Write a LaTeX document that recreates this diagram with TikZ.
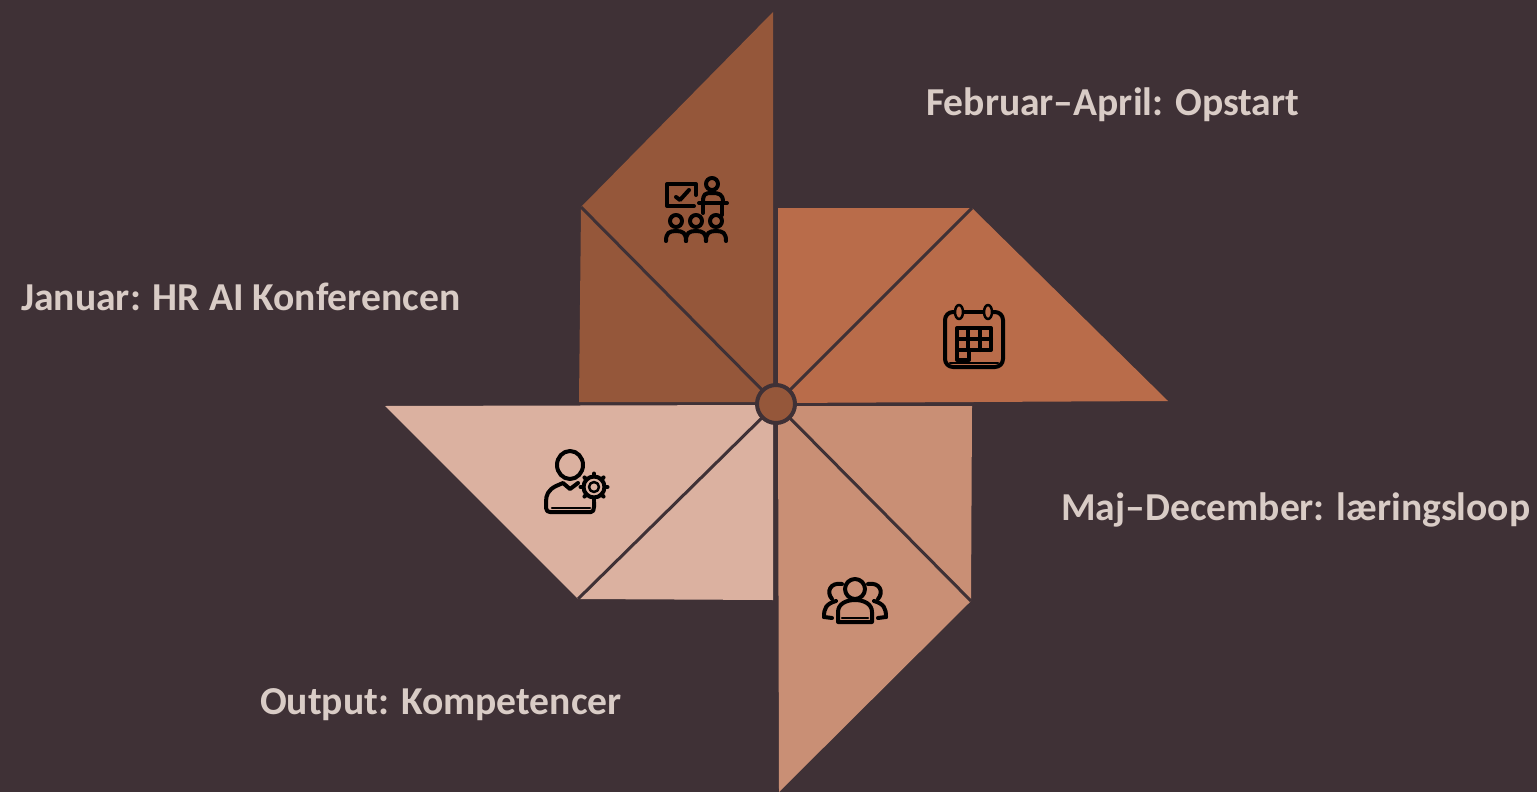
\documentclass[tikz,border=0pt]{standalone}
\usepackage{fontspec}
\setmainfont{Carlito}
\usepackage{tikz}
\definecolor{backdrop}{HTML}{3F3136}
\definecolor{bladeA}{HTML}{95573A}
\definecolor{bladeB}{HTML}{B96C4A}
\definecolor{bladeC}{HTML}{C98F75}
\definecolor{bladeD}{HTML}{DBB1A0}
\definecolor{caption}{HTML}{D9CCC6}
\tikzset{
   caption/.style={anchor=base west,inner sep=0pt,text=caption,font=\fontsize{39.6}{40}\selectfont\bfseries},
   fold/.style={draw=backdrop,line width=3pt},
   icon/.style={draw=black,line width=4pt,line cap=round,line join=round},
   thin icon/.style={draw=black,line width=2.5pt,line cap=round,line join=round}
}
\begin{document}
\begin{tikzpicture}[x=1pt,y=-1pt]
   \fill[backdrop] (0,0) rectangle (1537,792);
   \useasboundingbox (0,0) rectangle (1537,792);

   \coordinate (hub) at (776,404);
   \coordinate (tipA) at (581,207);
   \coordinate (tipB) at (972,208);
   \coordinate (tipC) at (971,601);
   \coordinate (tipD) at (578,599);

   % blades
   \fill[bladeA] (773,12) -- (tipA) -- (579,402) -- (773,402) -- cycle;
   \fill[bladeB] (778,208) -- (tipB) -- (1168,401) -- (778,403) -- cycle;
   \fill[bladeC] (778,406) -- (972,406) -- (tipC) -- (779,792) -- cycle;
   \fill[bladeD] (385,406) -- (773,405) -- (773,600) -- (tipD) -- cycle;

   \draw[fold] (tipA) -- (hub);
   \draw[fold] (tipB) -- (hub);
   \draw[fold] (tipC) -- (hub);
   \draw[fold] (tipD) -- (hub);
   \node[circle,draw=backdrop,fill=bladeA,line width=4pt,minimum size=38pt,inner sep=0pt] (center) at (hub) {};

   % presenter
   \draw[icon] (696,195) -- (696,184) -- (667,184) -- (667,206) -- (694,206);
   \draw[icon] (676,197) -- (680,200) -- (689,190);
   \draw[icon] (712,184) circle (6pt);
   \draw[icon] (703,202) .. controls (703,194) and (705,193) .. (712,193) .. controls (719,193) and (723,194) .. (723,202);
   \draw[icon] (699,203) -- (727,203);
   \draw[icon] (703,204) -- (703,213);
   \draw[icon] (722,204) -- (722,215);
   \foreach \x in {676,696,716} {
      \draw[icon] (\x,221) circle (6pt);
      \draw[icon] (\x-10,241) .. controls (\x-10,233) and (\x-7,231) .. (\x,231) .. controls (\x+7,231) and (\x+10,233) .. (\x+10,241);
   }

   % calendar
   \draw[icon,rounded corners=8pt] (959,312) -- (945,312) -- (945,367) -- (1003,367) -- (1003,312) -- (988,312);
   \draw[icon] (959,312) -- (988,312);
   \draw[thin icon] (950,363) -- (998,363);
   \draw[thin icon,fill=bladeB] (959,312) ellipse (4pt and 7pt);
   \draw[thin icon,fill=bladeB] (988,312) ellipse (4pt and 7pt);
   \draw[icon] (957,328) rectangle (991,350);
   \draw[icon] (957,350) rectangle (969,360);
   \draw[icon] (968,328) -- (968,350);
   \draw[icon] (980,328) -- (980,350);
   \draw[icon] (957,339) -- (991,339);

   % person
   \draw[icon] (570,465) ellipse (13pt and 14pt);
   \draw[icon] (578,483) -- (570,489) -- (563,483) -- (556,486) .. controls (548,490) and (546,495) .. (546,502) -- (546,508) .. controls (546,511) and (548,512) .. (550,512) -- (591,512) .. controls (593,512) and (594,510) .. (594,507) -- (594,502);
   \draw[thin icon] (552,508) -- (590,508);
   \foreach \a in {0,45,...,315} {
      \draw[icon] (594,487) ++(\a:10.5pt) -- ++(\a:3pt);
   }
   \draw[icon] (594,487) circle (10.5pt);
   \draw[thin icon] (594,487) circle (5pt);

   % team
   \draw[icon] (855,589) circle (10pt);
   \draw[icon] (838,622) -- (838,612) .. controls (838,604) and (846,600) .. (855,600) .. controls (864,600) and (872,604) .. (872,612) -- (872,622) -- cycle;
   \draw[thin icon] (842,618) -- (868,618);
   \draw[icon] (842,584) .. controls (830,582) and (826,592) .. (832,599);
   \draw[icon] (868,584) .. controls (880,582) and (884,592) .. (878,599);
   \draw[icon] (824,617) .. controls (824,608) and (826,604) .. (836,601);
   \draw[icon] (886,617) .. controls (886,608) and (884,604) .. (874,601);
   \draw[icon] (824,617) -- (832,618);
   \draw[icon] (886,617) -- (878,618);

   % captions
   \node[caption] (feb) at (926,115) {Februar–April: Opstart};
   \node[caption] (jan) at (21,310) {Januar: HR AI Konferencen};
   \node[caption] (maj) at (1061,520) {Maj–December: læringsloop};
   \node[caption] (out) at (260,714) {Output: Kompetencer};
\end{tikzpicture}
\end{document}
